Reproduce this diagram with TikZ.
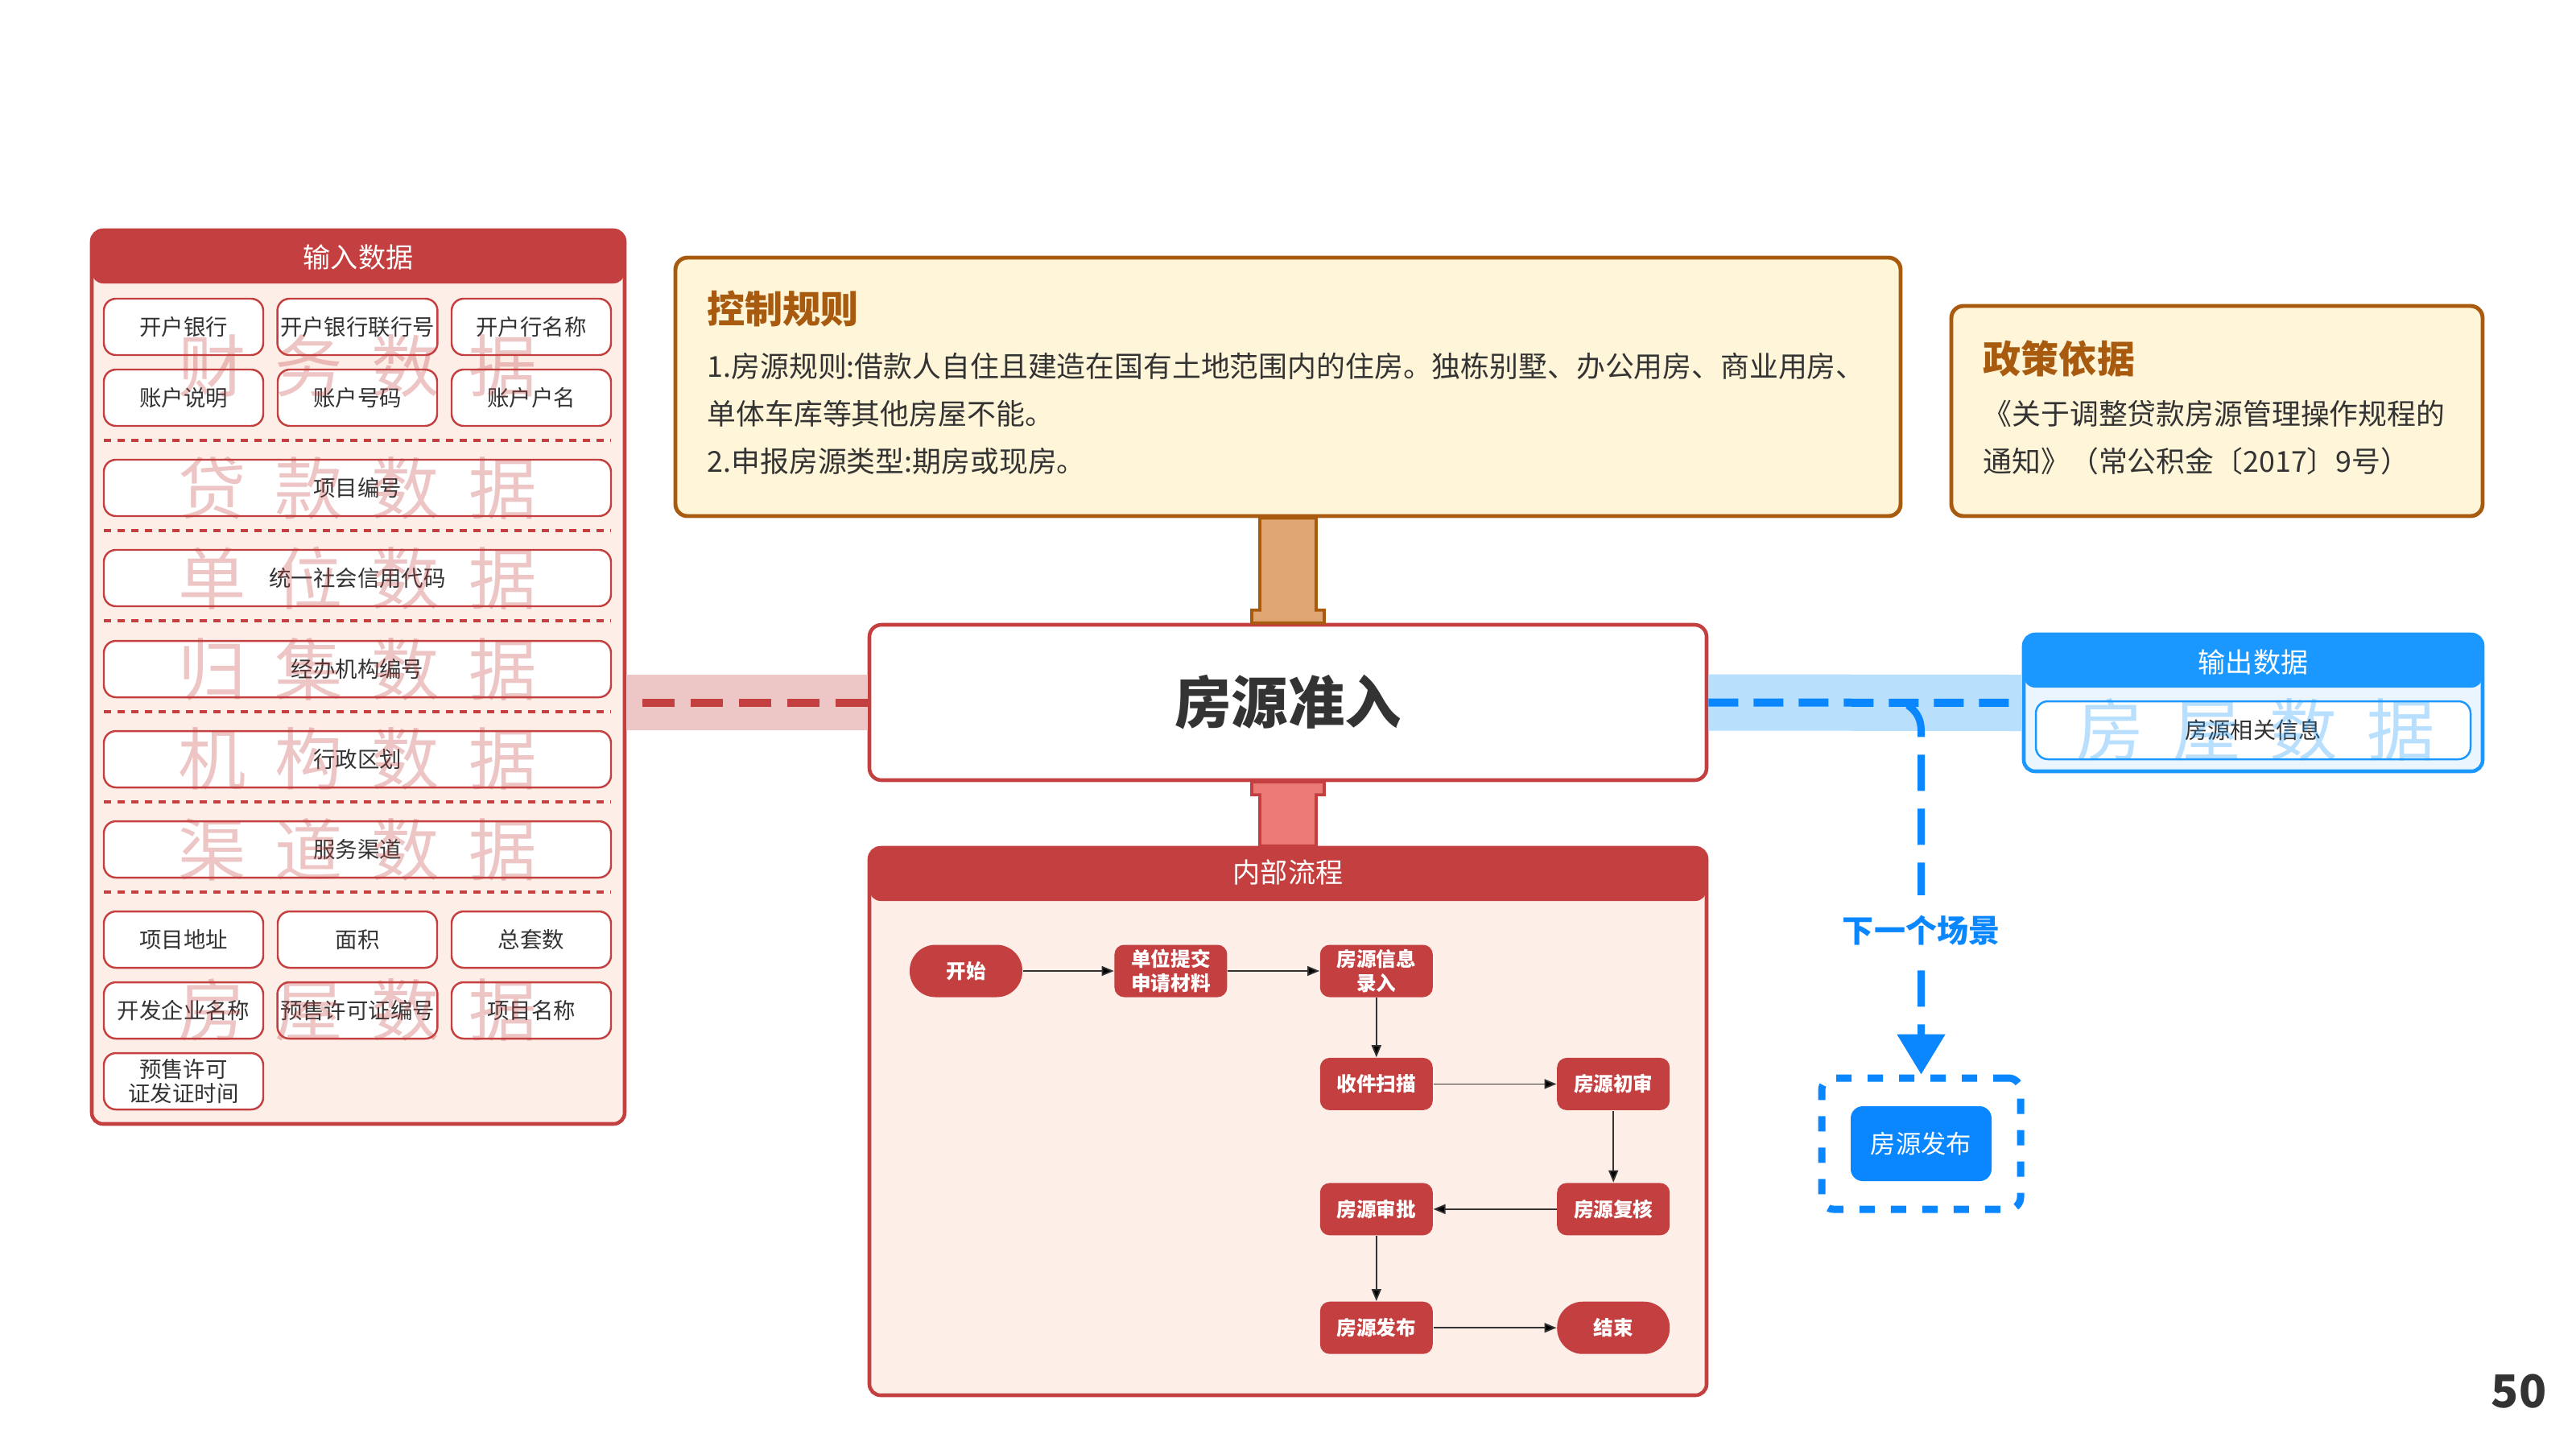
\documentclass[tikz,border=0pt]{standalone}
\usepackage{fontspec}
\setmainfont{Noto Sans CJK SC}
\usetikzlibrary{positioning,arrows.meta}
\definecolor{cred}{HTML}{C44040}
\definecolor{cpink}{HTML}{FDEEE8}
\definecolor{cband}{HTML}{EDC6C6}
\definecolor{csalmon}{HTML}{EC7A77}
\definecolor{cbrown}{HTML}{A85A0F}
\definecolor{ccream}{HTML}{FFF5D8}
\definecolor{ctan}{HTML}{DFA673}
\definecolor{cblue}{HTML}{1A98FF}
\definecolor{cdeep}{HTML}{0A86FF}
\definecolor{cice}{HTML}{EAF5FF}
\definecolor{csky}{HTML}{B8DFFC}
\definecolor{ctext}{HTML}{333333}
\newcommand{\wmark}[4]{#1\hspace{0.36cm}#2\hspace{0.36cm}#3\hspace{0.36cm}#4}

\begin{document}
\begin{tikzpicture}[>={Triangle[length=0.15cm,width=0.12cm]},every node/.append style={align=center,text=ctext},
  panel/.style={draw=#1, line width=1.3pt, rounded corners=0.14cm, path picture={\fill[#1] (path picture bounding box.north west) rectangle ([yshift=-0.66cm]path picture bounding box.north east);}},
  head/.style={text=white, font=\fontsize{9.7}{11}\selectfont},
  field/.style={draw=cred, line width=0.7pt, fill=white, rounded corners=0.15cm, minimum width=1.98cm, minimum height=0.70cm, inner sep=1pt, font=\fontsize{7.8}{8.3}\selectfont},
  wide/.style={field, minimum width=6.30cm},
  sep/.style={cred, line width=1.1pt, dash pattern=on 0.09cm off 0.08cm},
  wmred/.style={text=cred, text opacity=0.3, font=\fontsize{24}{24}\selectfont},
  wmblue/.style={text=cblue, text opacity=0.3, font=\fontsize{24}{24}\selectfont},
  note/.style={draw=cbrown, fill=ccream, line width=1.4pt, rounded corners=0.15cm},
  notehead/.style={anchor=west, inner sep=0pt, text=cbrown, font=\bfseries\fontsize{13.4}{15}\selectfont},
  notetext/.style={anchor=west, inner sep=0pt, align=left, font=\fontsize{10.2}{16.8}\selectfont},
  stepbox/.style={fill=cred, text=white, rounded corners=0.12cm, minimum width=1.40cm, minimum height=0.65cm, inner sep=1pt, font=\bfseries\fontsize{7}{8.3}\selectfont},
  endbox/.style={stepbox, rounded corners=0.32cm},
  flow/.style={->, draw=ctext, line width=0.5pt},
  ]
    \fill[white] (0,0) rectangle (32,-18);
    \useasboundingbox (0,0) rectangle (32,-18);

    % input data
    \node[panel=cred, fill=cpink, minimum width=6.62cm, minimum height=11.10cm] (input) at (4.45,-8.41) {};
    \node[head] (inputhead) at ([yshift=-0.36cm]input.north) {输入数据};
    \node[field] (bank) at (2.28,-4.06) {开户银行};
    \node[field] (bankno) at (4.44,-4.06) {开户银行联行号};
    \node[field] (bankname) at (6.60,-4.06) {开户行名称};
    \node[field] (acctnote) at (2.28,-4.94) {账户说明};
    \node[field] (acctno) at (4.44,-4.94) {账户号码};
    \node[field] (acctname) at (6.60,-4.94) {账户户名};
    \node[wide] (projno) at (4.44,-6.06) {项目编号};
    \node[wide] (credit) at (4.44,-7.18) {统一社会信用代码};
    \node[wide] (agency) at (4.44,-8.31) {经办机构编号};
    \node[wide] (region) at (4.44,-9.43) {行政区划};
    \node[wide] (channel) at (4.44,-10.55) {服务渠道};
    \node[field] (addr) at (2.28,-11.67) {项目地址};
    \node[field] (area) at (4.44,-11.67) {面积};
    \node[field] (units) at (6.60,-11.67) {总套数};
    \node[field] (dev) at (2.28,-12.55) {开发企业名称};
    \node[field] (permit) at (4.44,-12.55) {预售许可证编号};
    \node[field] (projname) at (6.60,-12.55) {项目名称};
    \node[field] (permitdate) at (2.28,-13.43) {预售许可\\证发证时间};
    \draw[sep] (1.29,-5.47) -- (7.59,-5.47);
    \draw[sep] (1.29,-6.59) -- (7.59,-6.59);
    \draw[sep] (1.29,-7.71) -- (7.59,-7.71);
    \draw[sep] (1.29,-8.84) -- (7.59,-8.84);
    \draw[sep] (1.29,-9.96) -- (7.59,-9.96);
    \draw[sep] (1.29,-11.08) -- (7.59,-11.08);
    \node[wmred] (wmfin) at (4.44,-4.55) {\wmark{财}{务}{数}{据}};
    \node[wmred] (wmloan) at (4.44,-6.06) {\wmark{贷}{款}{数}{据}};
    \node[wmred] (wmunit) at (4.44,-7.18) {\wmark{单}{位}{数}{据}};
    \node[wmred] (wmcoll) at (4.44,-8.31) {\wmark{归}{集}{数}{据}};
    \node[wmred] (wmorg) at (4.44,-9.43) {\wmark{机}{构}{数}{据}};
    \node[wmred] (wmchan) at (4.44,-10.55) {\wmark{渠}{道}{数}{据}};
    \node[wmred] (wmhouse) at (4.44,-12.55) {\wmark{房}{屋}{数}{据}};

    % rules and policy
    \node[note, minimum width=15.22cm, minimum height=3.21cm] (rules) at (16.00,-4.805) {};
    \node[notehead] (ruleshead) at (8.78,-3.83) {控制规则};
    \node[notetext] (rulestext) at (8.78,-5.14) {1.房源规则:借款人自住且建造在国有土地范围内的住房。独栋别墅、办公用房、商业用房、\\单体车库等其他房屋不能。\\2.申报房源类型:期房或现房。};
    \node[note, minimum width=6.60cm, minimum height=2.61cm] (policy) at (27.54,-5.105) {};
    \node[notehead] (policyhead) at (24.63,-4.45) {政策依据};
    \node[notetext] (policytext) at (24.63,-5.435) {《关于调整贷款房源管理操作规程的\\通知》（常公积金〔2017〕9号）};

    % scene
    \node[draw=cred, line width=1.3pt, fill=white, rounded corners=0.15cm, minimum width=10.40cm, minimum height=1.93cm, font=\bfseries\fontsize{20}{24}\selectfont] (core) at (16.00,-8.725) {房源准入};

    % internal flow
    \node[panel=cred, fill=cpink, minimum width=10.40cm, minimum height=6.80cm] (inner) at (16.00,-13.93) {};
    \node[head] (innerhead) at ([yshift=-0.33cm]inner.north) {内部流程};
    \node[endbox] (start) at (12.00,-12.06) {开始};
    \node[stepbox, right=1.13cm of start] (submit) {单位提交\\申请材料};
    \node[stepbox, right=1.14cm of submit] (entry) {房源信息\\录入};
    \node[stepbox, below=0.74cm of entry] (scan) {收件扫描};
    \node[stepbox, right=1.53cm of scan] (first) {房源初审};
    \node[stepbox, below=0.89cm of first] (recheck) {房源复核};
    \node[stepbox, left=1.53cm of recheck] (approve) {房源审批};
    \node[stepbox, below=0.81cm of approve] (publish) {房源发布};
    \node[endbox, right=1.53cm of publish] (finish) {结束};
    \path[flow] (start) edge (submit);
    \path[flow] (submit) edge (entry);
    \path[flow] (entry) edge (scan);
    \path[flow] (scan) edge (first);
    \path[flow] (first) edge (recheck);
    \path[flow] (recheck) edge (approve);
    \path[flow] (approve) edge (publish);
    \path[flow] (publish) edge (finish);

    % output data
    \node[panel=cblue, fill=cice, minimum width=5.70cm, minimum height=1.70cm] (output) at (27.99,-8.73) {};
    \node[head] (outputhead) at ([yshift=-0.37cm]output.north) {输出数据};
    \node[draw=cblue, line width=0.7pt, fill=white, rounded corners=0.15cm, minimum width=5.40cm, minimum height=0.72cm, font=\fontsize{8}{9}\selectfont] (outinfo) at (27.99,-9.07) {房源相关信息};
    \node[wmblue] (wmout) at (28.02,-9.07) {\wmark{房}{屋}{数}{据}};

    % next scene
    \node[draw=cdeep, line width=0.09cm, dash pattern=on 0.19cm off 0.2cm, rounded corners=0.15cm, minimum width=2.47cm, minimum height=1.63cm] (next) at (23.865,-14.205) {};
    \node[fill=cdeep, text=white, rounded corners=0.15cm, minimum width=1.75cm, minimum height=0.93cm, font=\fontsize{8.9}{10}\selectfont] (nextstep) at (next) {房源发布};

    % links
    \draw[draw=cbrown, fill=ctan, line width=1.1pt] ([xshift=-0.35cm]rules.south) -- ([xshift=-0.35cm,yshift=0.16cm]core.north) -- ++(-0.10,0) -- ([xshift=-0.45cm]core.north) -- ([xshift=0.45cm]core.north) -- ++(0,0.16) -- ++(-0.10,0) -- ([xshift=0.35cm]rules.south) -- cycle;
    \draw[draw=cred, fill=csalmon, line width=1.1pt] ([xshift=-0.45cm]core.south) -- ++(0,-0.16) -- ++(0.10,0) -- ([xshift=-0.35cm]inner.north) -- ([xshift=0.35cm]inner.north) -- ([xshift=0.35cm,yshift=-0.16cm]core.south) -- ++(0.10,0) -- ([xshift=0.45cm]core.south) -- cycle;
    \draw[line width=0.69cm, cband] (core.west) -- (input.east |- core.west);
    \draw[line width=0.1cm, cred, dash pattern=on 0.4cm off 0.2cm] (core.west) -- (input.east |- core.west);
    \draw[line width=0.70cm, csky] (core.east) -- (output.west);
    \draw[line width=0.1cm, cdeep, dash pattern=on 0.37cm off 0.19cm] (core.east) -- (output.west);
    \coordinate (fork) at (23.70,-8.76);
    \coordinate (bend) at (23.865,-9.08);
    \draw[line width=0.09cm, cdeep, dash pattern=on 0.45cm off 0.22cm, -{Triangle[length=0.5cm,width=0.58cm]}] (fork) to[out=-35,in=90] (bend) -- node[pos=0.58, fill=white, text=cdeep, inner xsep=0pt, inner ysep=0.25cm, font=\bfseries\fontsize{11.1}{13}\selectfont] (nextlabel) {下一个场景} (next.north);

    \node[font=\bfseries\fontsize{16}{18}\selectfont] (pageno) at (31.29,-17.28) {50};
\end{tikzpicture}
\end{document}
